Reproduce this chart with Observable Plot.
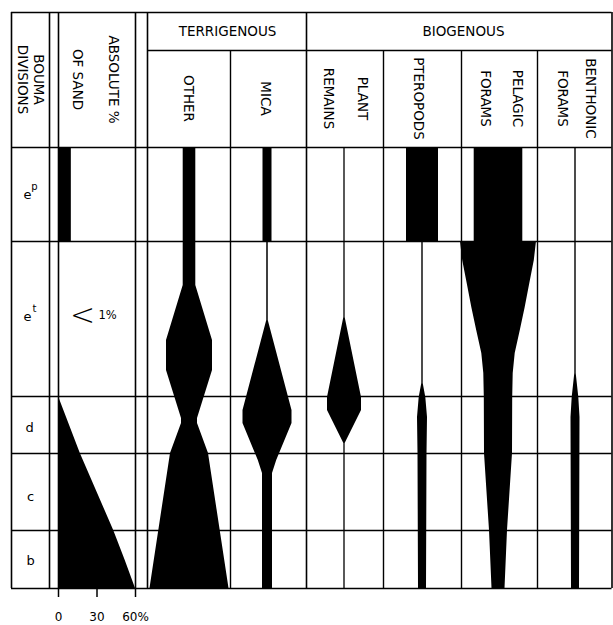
<!DOCTYPE html>
<html><head><meta charset="utf-8">
<script src="https://cdn.jsdelivr.net/npm/d3@7"></script>
<script src="https://cdn.jsdelivr.net/npm/@observablehq/plot@0.6"></script>
<style>body{margin:0;background:#fff}</style>
</head><body><div id="chart"></div>
<script>
// ---------------- DATA (stratigraphic position 0 = top of eᵖ, 441 = base of b) ----------------
const divisions = ["e", "e", "d", "c", "b"];
const divisionSup = ["p", "t", "", "", ""];
const divisionBounds = [0, 94, 249, 306, 383, 441];

// Absolute % of sand
const sandEpDepth = [0, 94];
const sandEpPct = [10, 10];
const sandDepth = [249, 306, 383, 413, 441];
const sandPct = [0, 17, 43, 52, 60];
const sandNote = ["<", "1%"];
const sandTicks = [0, 30, 60];
const sandTickLabels = ["0", "30", "60%"];

// Kite half-widths (relative abundance) per component
const otherDepth = [0, 138, 193, 223, 271, 276, 306, 441];
const otherWidth = [6.3, 6.3, 23, 23, 8, 8, 19, 39.5];
const micaDepth = [0, 94, 94, 173, 263, 276, 313, 326, 441];
const micaWidth = [4.5, 4.5, 0.75, 0.75, 24.5, 24.5, 9.2, 5, 5];
const plantDepth = [0, 170, 250, 263, 296, 441];
const plantWidth = [0.65, 0.65, 17, 17, 0.65, 0.65];
const pteropodDepth = [0, 94, 94, 236, 250, 270, 306, 441];
const pteropodWidth = [16, 16, 0.7, 0.7, 3.3, 5, 4.5, 4];
const pelagicDepth = [0, 94, 94, 113, 135, 160, 183, 206, 226, 250, 306, 383, 441];
const pelagicWidth = [24.3, 24.3, 38, 35.8, 31.5, 26.7, 21.8, 16.7, 14.7, 14.2, 14, 9, 6.5];
const benthonicDepth = [0, 226, 250, 270, 441];
const benthonicWidth = [0.7, 0.7, 3.3, 4.5, 4];

// Header labels
const groupLabels = ["TERRIGENOUS", "BIOGENOUS"];
const columnLabels = [["BOUMA", "DIVISIONS"], ["ABSOLUTE %", "OF SAND"], ["OTHER"], ["MICA"],
  ["PLANT", "REMAINS"], ["PTEROPODS"], ["PELAGIC", "FORAMS"], ["BENTHONIC", "FORAMS"]];

// ---------------- LAYOUT ----------------
const W = 613, H = 625;
const left = 11, right = 611.5;
const headerTop = -135, subHeader = -97, base = 441;
const sandLeft = 58, sandRight = 135;
const centers = {other: 189, mica: 267, plant: 344, pteropods: 422, pelagic: 498, benthonic: 575};
const vFull = [11, 49, 58, 135, 147, 306, 611.5];
const vSub = [230, 383, 461, 537];
const groupX = [227, 463];
const labelX = [[38, 22], [113, 77], [188], [265], [362, 328], [418], [517, 485], [590, 562]];
const labelY = [-68, -68, -49, -49, -49, -49, -49, -49];
const divLabelY = [47, 169, 280, 349, 413];
const divLabelX = [27, 27, 29, 30, 30];

const sandX = v => sandLeft + v * (sandRight - sandLeft) / 60;
const series = (name, depth, width) => depth.map((d, i) => ({name, depth: d, w: width[i]}));
const kites = [
  ...series("other", otherDepth, otherWidth),
  ...series("mica", micaDepth, micaWidth),
  ...series("plant", plantDepth, plantWidth),
  ...series("pteropods", pteropodDepth, pteropodWidth),
  ...series("pelagic", pelagicDepth, pelagicWidth),
  ...series("benthonic", benthonicDepth, benthonicWidth)
];
const sand = [
  ...sandEpDepth.map((d, i) => ({part: "ep", depth: d, v: sandEpPct[i]})),
  ...sandDepth.map((d, i) => ({part: "dcb", depth: d, v: sandPct[i]}))
];
const headerText = columnLabels.flatMap((lines, i) => lines.map((t, j) => ({t, x: labelX[i][j], y: labelY[i]})));
const divRows = divisions.map((t, i) => ({t, sup: divisionSup[i], x: divLabelX[i], y: divLabelY[i]}));

const font = "DejaVu Sans";
const chart = Plot.plot({
  width: W, height: H, margin: 0,
  x: {type: "linear", domain: [0, W], range: [0, W], axis: null},
  y: {type: "linear", domain: [-147, H - 147], range: [0, H], axis: null},
  style: {fontFamily: font, background: "white"},
  marks: [
    Plot.areaX(kites, {y: "depth", x1: d => centers[d.name] - d.w, x2: d => centers[d.name] + d.w, z: "name", fill: "black", curve: "linear"}),
    Plot.areaX(sand, {y: "depth", x1: () => sandX(0), x2: d => sandX(d.v), z: "part", fill: "black", curve: "linear"}),
    // grid
    Plot.ruleY([headerTop, ...divisionBounds], {y: d => d, x1: () => left, x2: () => right, stroke: "black", strokeWidth: 1.6}),
    Plot.ruleY([subHeader], {y: d => d, x1: () => 147, x2: () => right, stroke: "black", strokeWidth: 1.6}),
    Plot.ruleX(vFull, {x: d => d, y1: () => headerTop, y2: () => base, stroke: "black", strokeWidth: 1.6}),
    Plot.ruleX(vSub, {x: d => d, y1: () => subHeader, y2: () => base, stroke: "black", strokeWidth: 1.4}),
    // sand axis
    Plot.ruleX(sandTicks, {x: d => sandX(d), y1: () => base, y2: () => base + 9, stroke: "black", strokeWidth: 1.5}),
    Plot.text(sandTicks, {x: d => sandX(d), y: () => 470, text: (d, i) => sandTickLabels[i], fontSize: 12, fill: "black"}),
    // header texts
    Plot.text(groupLabels, {x: (d, i) => groupX[i], y: () => -116, text: d => d, fontSize: 13.5, fill: "black"}),
    Plot.text(headerText, {x: "x", y: "y", text: "t", rotate: 90, fontSize: 13.5, fill: "black"}),
    // division labels
    Plot.text(divRows, {x: "x", y: "y", text: "t", fontSize: 13, fill: "black"}),
    Plot.text(divRows.filter(d => d.sup), {x: "x", y: "y", text: "sup", fontSize: 10, dx: 7, dy: -8, fill: "black"}),
    // < 1%
    Plot.text([sandNote[0]], {x: () => 82, y: () => 168, text: d => d, fontSize: 30, fontWeight: 200, fill: "black"}),
    Plot.text([sandNote[1]], {x: () => 107, y: () => 168, text: d => d, fontSize: 11.5, fill: "black"})
  ]
});
document.getElementById("chart").append(chart);
</script>
</body></html>
